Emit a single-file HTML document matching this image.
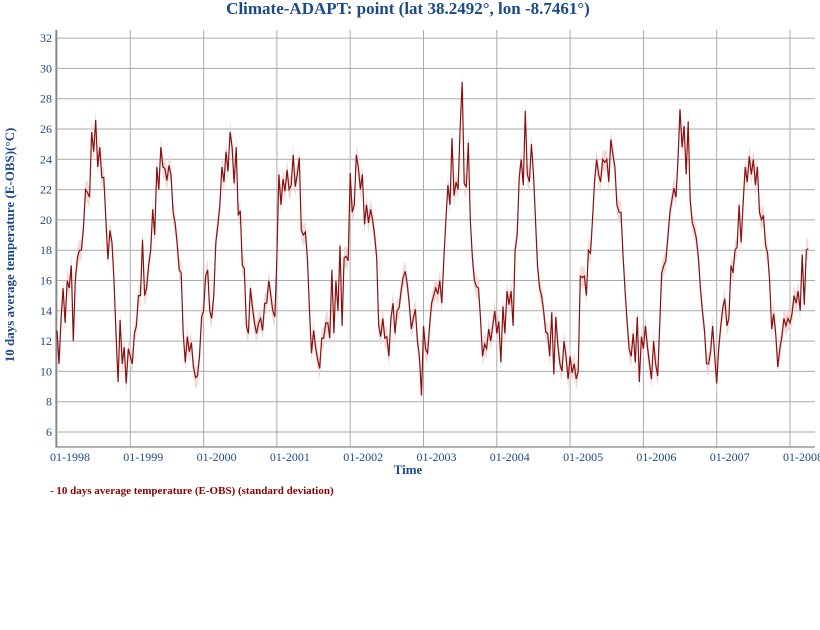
<!DOCTYPE html>
<html><head><meta charset="utf-8"><style>
body{margin:0;background:#fff;}
svg{display:block;font-family:"Liberation Serif",serif;}
</style></head><body>
<svg id="chart" width="820" height="630" viewBox="0 0 820 630">
<text x="408" y="14" text-anchor="middle" font-size="17" font-weight="bold" fill="#1b4a8a">Climate-ADAPT: point (lat 38.2492°, lon -8.7461°)</text>
<g id="grid"></g>
<g id="band"></g>
<g id="line"></g>
<g id="axes"></g>
<text transform="translate(14,245) rotate(-90)" text-anchor="middle" font-size="13" font-weight="bold" fill="#1b4a8a">10 days average temperature (E-OBS)(°C)</text>
<text x="408" y="474" text-anchor="middle" font-size="13" font-weight="bold" fill="#1b4a8a">Time</text>
<text x="50" y="494" font-size="11" font-weight="bold" fill="#8b0000">- 10 days average temperature (E-OBS) (standard deviation)</text>
</svg>
<script>
const yTicks=[6,8,10,12,14,16,18,20,22,24,26,28,30,32];
const xLabels=["01-1998","01-1999","01-2000","01-2001","01-2002","01-2003","01-2004","01-2005","01-2006","01-2007","01-2008"];
const y1998=[12.7,10.5,13.5,15.5,13.2,16,15.5,17,12,16,17.5,18,18,19.5,22,21.8,21.5,25.8,24.5,26.6,23.5,24.8,22.8,22.8,20,17.4,19.3,18.5,16,12.5,9.3,13.4,10.5,11.6,9.2,11.5];
const y1999=[11,10.5,12.5,13,15,15,18.7,15,15.5,17,18,20.7,19,23.5,22,24.8,23.5,23.4,22.6,23.6,23,20.5,19.8,18.5,16.7,16.5,12.5,10.6,12.3,11.3,11.9,10.3,9.6,9.7,11,13.6];
const y2000=[14,16.3,16.7,14,13.5,15,18.5,19.7,21,23.5,22.5,24.5,23.2,25.8,24.8,22.4,24.8,20.3,20.6,17,16.8,13,12.5,15.5,14.2,13.2,12.5,13.2,13.5,12.7,14.5,14.5,16,15,14,13.6];
const y2001=[17.6,23,21,22.7,21.9,23.3,22,22.3,24.3,22.2,23,24.1,19.3,19,19.2,17.5,14,11.2,12.7,11.6,10.8,10.2,12.2,12.2,13.2,13.2,12.2,16.7,12.5,16,14,18.3,13,17.5,17.6,17.3];
const y2002=[23.1,20.5,21,24.3,23.5,22,23,19.7,21,19.8,20.7,20,19,17.5,13,12.3,13.5,12.2,12.3,11,13.5,14.5,12.5,14,14.2,15.3,16.2,16.6,15.8,14.5,12.8,13.5,14.1,12,11,8.4];
const y2003=[13,11.5,11.2,13,14.5,15,15.5,15.1,16,14.5,17.5,20,22.3,21,25.4,21.6,22.5,22,26,29.1,22.4,22.2,25.1,20,17.5,16,15.6,15.5,13.5,11,11.8,11.5,12.8,12,13,14];
const y2004=[12.5,13.3,10.6,14.3,12.5,15.3,14.4,15.3,13,18,19,22.8,24,22.3,27.2,23,22.5,25,23,20,17,15.5,15,14,12.6,12.5,11,13.9,9.8,13.6,11.7,10.5,10,12,11,9.5];
const y2005=[11,9.9,10.5,9.5,10,16.3,16.2,16.3,15,18,17.8,20,22.5,24,23,22.5,24,23.8,24,22.5,25.3,24.3,23.5,21,20.5,20.5,17.7,15.3,13.3,11.5,11,12.5,10.6,13.6,9.3,12.3];
const y2006=[11.5,13,11.6,10.5,9.5,12,10.5,9.7,13,16.5,17,17.3,18.8,20.5,21.3,22.1,21.5,24,27.3,24.8,26.2,23,26.5,21.3,19.8,19.4,18.8,17.5,15.5,14,12.7,10.5,10.5,11.3,13,11];
const y2007=[9.2,11.5,13,14.2,14.8,13,13.5,17,16.5,18,18.2,21,18.5,21.2,23.5,22.5,24.2,23,24,22.3,23.5,20.5,20,20.3,18.3,17.8,16,12.8,13.8,12.5,10.3,11.5,12.3,13.5,13,13.5];
const y2008=[13.2,13.8,15,14.5,15.3,14,17.7,14.4,18,18.1];
const stdDev=0.7;
const values=[].concat(y1998,y1999,y2000,y2001,y2002,y2003,y2004,y2005,y2006,y2007,y2008);
const L=56,R=815,T=30,B=447;
function xScale(t){return 57+t/36*73.3;}
function yScale(v){return 432-(v-6)*15.15;}
const NS="http://www.w3.org/2000/svg";
function mk(tag,parent,attrs){const e=document.createElementNS(NS,tag);for(const k in attrs)e.setAttribute(k,attrs[k]);parent.appendChild(e);return e;}
const grid=document.getElementById('grid'),axes=document.getElementById('axes');
yTicks.forEach(v=>{
  const g=mk('line',grid,{x1:L,x2:R,y1:yScale(v),y2:yScale(v),stroke:'#aaa','stroke-width':1});
  
  
  const t=mk('text',axes,{x:L-4,y:yScale(v)+4,'text-anchor':'end','font-size':12,fill:'#1b4a8a'});
  t.textContent=v;
  
  
});
xLabels.forEach((s,i)=>{
  const x=xScale(i*36);
  const g=mk('line',grid,{x1:x,x2:x,y1:T,y2:B,stroke:'#aaa','stroke-width':1});
  
  
  const t=mk('text',axes,{x:x+13,y:461,'text-anchor':'middle','font-size':12,fill:'#1b4a8a'});
  t.textContent=s;
  
  
});
const ax=mk('path',axes,{d:`M${L},${T}V${B}H${R}`,fill:'none',stroke:'#666','stroke-width':1});


let up='',dn='',ln='';
values.forEach((v,i)=>{const x=xScale(i);ln+=(i?'L':'M')+x.toFixed(1)+','+yScale(v).toFixed(1);up+=(i?'L':'M')+x.toFixed(1)+','+yScale(v+stdDev).toFixed(1);});
for(let i=values.length-1;i>=0;i--){dn+='L'+xScale(i).toFixed(1)+','+yScale(values[i]-stdDev).toFixed(1);}
const band=mk('path',document.getElementById('band'),{d:up+dn+'Z',fill:'#ecd2d2','fill-opacity':0.8});


const line=mk('path',document.getElementById('line'),{d:ln,fill:'none',stroke:'#8b0f0f','stroke-width':1.2});


</script>
</body></html>
